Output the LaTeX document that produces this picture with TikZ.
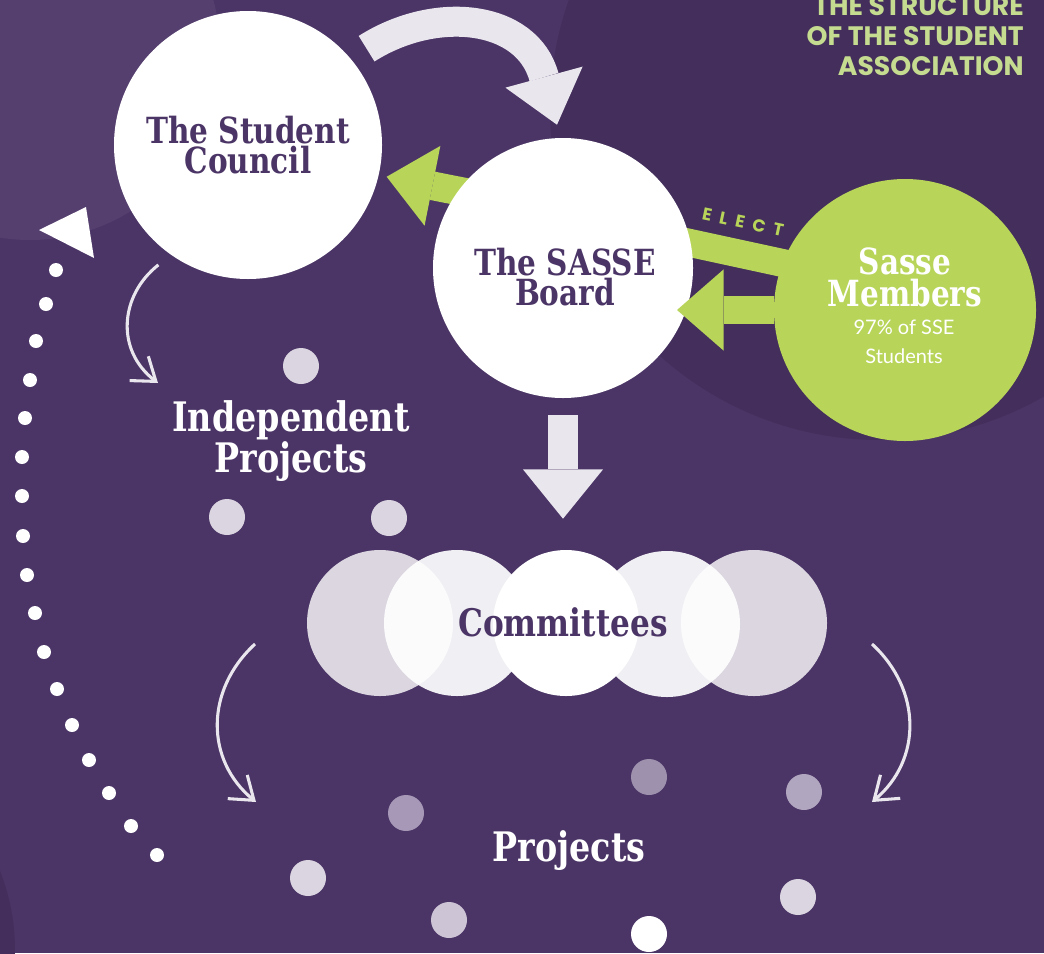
\documentclass[tikz,border=0pt]{standalone}
\usepackage{fontspec}
\usetikzlibrary{arrows.meta}
\newfontfamily\slabfont{DejaVu Serif}[FakeStretch=0.82]
\newfontfamily\titlefont{Poppins}
\newfontfamily\bodyfont{Lato}
\definecolor{bgpurple}{HTML}{4B3566}
\definecolor{darkpurple}{HTML}{432E5C}
\definecolor{lightpurple}{HTML}{553F6F}
\definecolor{sagreen}{HTML}{B8D55A}
\definecolor{titlegreen}{HTML}{C5DB8F}
\definecolor{arrowgray}{HTML}{EAE6EE}
\definecolor{txtpurple}{HTML}{4B3566}
\definecolor{dotA}{HTML}{DAD5E0}
\definecolor{dotB}{HTML}{9E91AE}
\definecolor{dotC}{HTML}{B1A6C0}
\definecolor{dotD}{HTML}{A698B6}
\definecolor{dotE}{HTML}{CDC5D6}
\pgfdeclarelayer{back}
\pgfdeclarelayer{mid}
\pgfsetlayers{back,mid,main}
\tikzset{
  bubble/.style={circle, inner sep=0pt, draw=none},
  slabtxt/.style={font=\slabfont\bfseries\fontsize{27}{22.5}\selectfont, align=center, inner sep=0pt},
  bandarrow/.style={line width=22.5pt, draw=arrowgray, -{Triangle[width=60pt,length=37pt,line width=0pt]}},
  greenarrow/.style={line width=21.5pt, draw=sagreen, -{Triangle[width=61pt,length=35pt,line width=0pt]}},
  greenband/.style={line width=21pt, draw=sagreen},
  thinarrow/.style={line width=2.3pt, draw=arrowgray, -{Straight Barb[length=16pt,width=23pt]}},
  dot/.style={circle, inner sep=0pt, minimum size=27pt, draw=none},
  wdot/.style={circle, inner sep=0pt, minimum size=10.5pt, fill=white, draw=none}
}
\begin{document}
\begin{tikzpicture}[x=0.75pt,y=-0.75pt]
\useasboundingbox (0,0) rectangle (1044,953);
\begin{pgfonlayer}{back}
  \fill[bgpurple] (0,0) rectangle (1044,953);
  \fill[lightpurple] (30,50) circle[radius=190];
  \fill[darkpurple] (880,110) circle[radius=330];
  \fill[darkpurple] (-200,950) circle[radius=215];
\end{pgfonlayer}

% title
\node[anchor=north east, align=right, inner sep=0pt, text=titlegreen,
      font=\titlefont\bfseries\fontsize{20}{22.5}\selectfont] (title) at (1024,-4)
      {THE STRUCTURE\\OF THE STUDENT\\ASSOCIATION};

% main circles
\node[bubble, fill=white, minimum size=201pt] (sc) at (248,145) {};
\node[bubble, fill=white, minimum size=195pt] (board) at (563,268) {};
\node[bubble, fill=sagreen, minimum size=196.5pt] (members) at (905,310) {};

% committees
\node[bubble, fill=white, fill opacity=0.8, minimum size=109.5pt] (c1) at (380,623) {};
\node[bubble, fill=white, fill opacity=0.92, minimum size=109.5pt] (c2) at (457,623) {};
\node[bubble, fill=white, fill opacity=0.8, minimum size=109.5pt] (c5) at (754,623) {};
\node[bubble, fill=white, fill opacity=0.92, minimum size=109.5pt] (c4) at (667,624) {};
\node[bubble, fill=white, minimum size=109.5pt] (c3) at (566,623) {};

% labels
\node[slabtxt, text=txtpurple] (sclbl) at (248,145) {The Student\\Council};
\node[slabtxt, text=txtpurple] (boardlbl) at (565,277) {The SASSE\\Board};
\node[slabtxt, text=txtpurple, font=\slabfont\bfseries\fontsize{28.5}{24}\selectfont] (comlbl) at (563,622) {Committees};
\node[slabtxt, text=white, font=\slabfont\bfseries\fontsize{27}{24}\selectfont] (memlbl) at (905,277) {Sasse\\Members};
\node[align=center, inner sep=0pt, text=white, font=\bodyfont\fontsize{15}{22}\selectfont] (memsub) at (904,342) {97\% of SSE\\Students};
\node[slabtxt, text=white, font=\slabfont\bfseries\fontsize{30.5}{26}\selectfont] (ip) at (291,441) {Independent\\Projects};
\node[slabtxt, text=white, font=\slabfont\bfseries\fontsize{30.5}{26}\selectfont] (proj) at (569,851) {Projects};

% label of the elect band
\node[rotate=-12, inner sep=0pt, text=sagreen, font=\titlefont\bfseries\fontsize{13}{13}\selectfont] (elect) at (743,222) {E\kern6pt L\kern6pt E\kern6pt C\kern6pt T};

% connectors (under circles)
\begin{pgfonlayer}{mid}
  \draw[greenband, shorten <=-8pt, shorten >=-8pt] (board.11) -- (members.159);
  \draw[greenarrow, shorten >=6pt] ([shift={(12,10)}]board.140) -- (sc.-13);
  \draw[bandarrow, shorten <=14pt] (sc.40) .. controls +(85,-54) and +(-30,-110) .. ([shift={(-6,-13)}]board.north);
\end{pgfonlayer}
\draw[greenarrow] (members.west) -- ([shift={(114,42)}]board.center);
\draw[bandarrow, shorten <=12.75pt, shorten >=23.25pt] (board.south) -- (board.south |- c3.north);

% thin curved arrows
\coordinate (ipin) at (158,383);
\coordinate (lstart) at (255,644);
\coordinate (lend) at (256,802);
\coordinate (rstart) at (872,644);
\coordinate (rend) at (872,802);
\draw[thinarrow, shorten <=12pt] (sc.-125) .. controls (120,295) and (115,350) .. (ipin);
\draw[thinarrow] (lstart) .. controls (205,690) and (205,760) .. (lend);
\draw[thinarrow] (rstart) .. controls (922,690) and (922,760) .. (rend);

% decorative dots
\node[dot, fill=dotA] (ipd1) at (301,366) {};
\node[dot, fill=dotA] (ipd2) at (227,517) {};
\node[dot, fill=dotA] (ipd3) at (389,518) {};
\node[dot, fill=dotB] (pd1) at (649,777) {};
\node[dot, fill=dotC] (pd2) at (804,792) {};
\node[dot, fill=dotD] (pd3) at (406,813) {};
\node[dot, fill=dotA] (pd4) at (308,878) {};
\node[dot, fill=dotE] (pd5) at (449,920) {};
\node[dot, fill=dotA] (pd6) at (798,897) {};
\node[dot, fill=white] (pd7) at (649,934) {};

% dotted return path
\foreach \x/\y [count=\i] in {56/270,46/304,36/341,30/380,25/418,22/457,22/496,23/536,27/575,35/613,44/652,57/689,72/725,89/760,109/793,131/826,157/855}
  \node[wdot] (rd\i) at (\x,\y) {};
\fill[white] (39,230) -- (86,207) -- (94,258) -- cycle;
\end{tikzpicture}
\end{document}
